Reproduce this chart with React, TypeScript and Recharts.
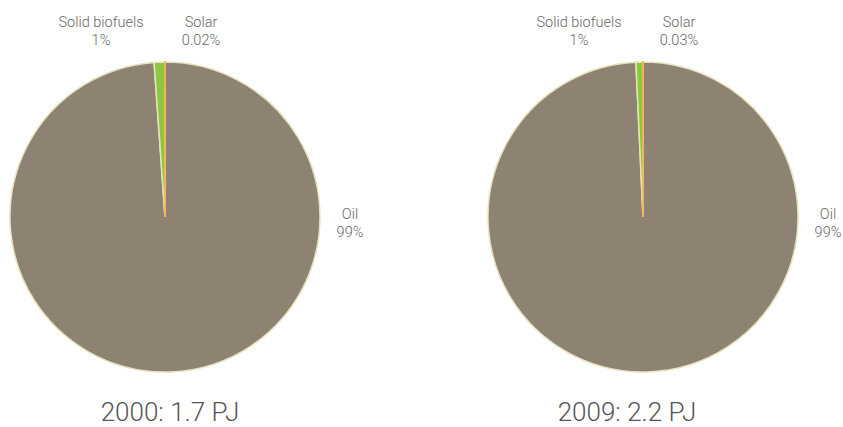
import React from 'react'
import { PieChart, Pie, Cell } from 'recharts'

// shares of energy use, percent
const sources = ['Oil', 'Solid biofuels', 'Solar']
const share2000 = [98.88, 1.1, 0.02]
const share2009 = [99.27, 0.7, 0.03]
const labels2000 = ['99%', '1%', '0.02%']
const labels2009 = ['99%', '1%', '0.03%']
const titles = ['2000: 1.7 PJ', '2009: 2.2 PJ']

const colors = ['#8E8272', '#8DC63F', '#F4B23E']
const border = '#E6E2BE'
const font = 'Roboto, "Noto Sans", sans-serif'

// drop the default body margin so the chart can use the full window
document.body.style.margin = '0'

const W = 843
const H = 427
const R = 155
const CY = 217
const CX = [165, 643]

const data2000 = sources.map((name, i) => ({ name, value: share2000[i], label: labels2000[i] }))
const data2009 = sources.map((name, i) => ({ name, value: share2009[i], label: labels2009[i] }))

// label placement relative to the pie centre
const labelOffset: Record<string, [number, number]> = {
  Oil: [R + 30, -3],
  'Solid biofuels': [-64, -R - 40],
  Solar: [36, -R - 40],
}

const makeLabel = (cx: number) => (props: any) => {
  const item = props.payload ?? {}
  const name = props.name ?? item.name
  const off = labelOffset[name]
  if (!off) return null
  const x = cx + off[0]
  const y = CY + off[1]
  return (
    <text
      key={name}
      x={x}
      y={y}
      fill="#666"
      fontSize={14.5}
      fontFamily={font}
      fontWeight={300}
      textAnchor="middle"
      dominantBaseline="central"
    >
      <tspan x={x} dy={0}>{name}</tspan>
      <tspan x={x} dy={18}>{item.label}</tspan>
    </text>
  )
}

export default function App() {
  const pies = [data2000, data2009]
  return (
    <div style={{ position: 'relative', width: W, height: H }}>
      <PieChart width={W} height={H} margin={{ top: 0, right: 0, bottom: 0, left: 0 }}>
        {pies.map((d, p) => (
          <Pie
            key={p}
            data={d}
            dataKey="value"
            nameKey="name"
            cx={CX[p]}
            cy={CY}
            outerRadius={R}
            startAngle={90}
            endAngle={-270}
            label={makeLabel(CX[p])}
            labelLine={false}
            isAnimationActive={false}
          >
            {d.map((entry, i) => (
              <Cell
                key={entry.name}
                fill={colors[i]}
                stroke={entry.name === 'Solar' ? colors[i] : border}
                strokeWidth={1.5}
              />
            ))}
          </Pie>
        ))}
      </PieChart>
      {titles.map((t, i) => (
        <div
          key={t}
          style={{
            position: 'absolute',
            left: [170, 627][i] - 100,
            top: 397,
            width: 200,
            textAlign: 'center',
            fontFamily: font,
            fontWeight: 300,
            fontSize: 26,
            color: '#555',
            lineHeight: '30px',
          }}
        >
          {t}
        </div>
      ))}
    </div>
  )
}
